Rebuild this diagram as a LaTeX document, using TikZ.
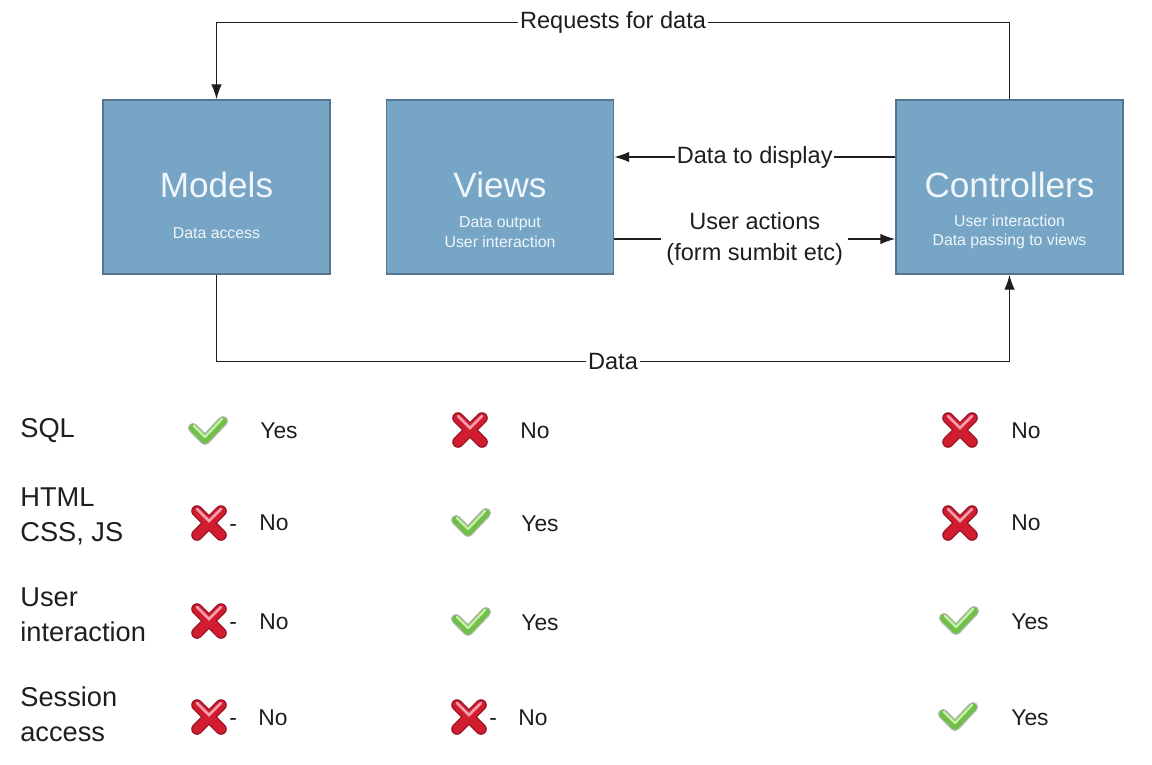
\documentclass[tikz,border=0pt]{standalone}
\usepackage{fontspec}
\setmainfont{Liberation Sans}
\usetikzlibrary{arrows.meta, calc, positioning}
\definecolor{boxblue}{RGB}{118,165,198}
\definecolor{boxedge}{RGB}{84,118,145}
\definecolor{boxtext}{RGB}{240,246,250}
\definecolor{inktext}{RGB}{30,30,30}
\definecolor{okgreen}{RGB}{112,192,72}
\definecolor{oklight}{RGB}{200,240,170}
\definecolor{nored}{RGB}{210,28,48}
\definecolor{nodark}{RGB}{150,20,35}
\definecolor{nolight}{RGB}{245,160,175}

\tikzset{
  okmark/.pic={
    \draw[line width=5.8pt,gray!55,line cap=round,line join=round] (-14,-3) -- (-2,9) -- (16,-10);
    \draw[line width=4.4pt,okgreen,line cap=round,line join=round] (-14,-3) -- (-2,9) -- (16,-10);
    \draw[line width=1.3pt,oklight,line cap=round,line join=round] (-13,-5) -- (-2,6) -- (15,-12);
  },
  nomark/.pic={
    \draw[line width=6.6pt,nodark,line cap=round] (-12,-12) -- (12,12) (-12,12) -- (12,-12);
    \draw[line width=5.2pt,nored,line cap=round] (-12,-12) -- (12,12) (-12,12) -- (12,-12);
    \draw[line width=1.5pt,nolight,line cap=round] (-12,-14) -- (0,-2) -- (12,-14);
  }
}

\begin{document}
\begin{tikzpicture}[x=0.02cm,y=-0.02cm,
    >={Latex[length=8.5pt,width=6pt]},
    box/.style={draw=boxedge,line width=0.9pt,fill=boxblue,minimum width=4.54cm,minimum height=3.48cm},
    boxtitle/.style={text=boxtext,font=\fontsize{20}{24}\selectfont},
    boxsub/.style={text=boxtext,align=center,inner sep=0pt,font=\fontsize{9}{11.2}\selectfont},
    link/.style={line width=0.8pt,inktext},
    lbl/.style={fill=white,text=inktext,inner sep=1pt,align=center,font=\fontsize{13.4}{18}\selectfont},
    rowlbl/.style={anchor=west,align=left,inner sep=0pt,text=inktext,font=\fontsize{15.5}{19.8}\selectfont},
    answer/.style={anchor=west,inner sep=0pt,text=inktext,font=\fontsize{13}{16}\selectfont}]
  \useasboundingbox (0,0) rectangle (1152,764);

  % the three boxes
  \node[box] (models) at (216.5,187) {};
  \node[box] (views) at (500,187) {};
  \node[box] (ctrl) at (1009.5,187) {};

  \node[boxtitle] (models-t) at ($(models.center)+(0,-2)$) {Models};
  \node[boxsub] (models-s) at ($(models.center)+(0,46)$) {Data access};
  \node[boxtitle] (views-t) at ($(views.center)+(0,-2)$) {Views};
  \node[boxsub] (views-s) at ($(views.center)+(0,45)$) {Data output\\User interaction};
  \node[boxtitle] (ctrl-t) at ($(ctrl.center)+(0,-2)$) {Controllers};
  \node[boxsub] (ctrl-s) at ($(ctrl.center)+(0,45)$) {User interaction\\Data passing to views};

  % connectors
  \draw[link,->] (ctrl.north) -- ++(0,-77) -| node[lbl,pos=.25] {Requests for data} (models.north);
  \draw[link,->] ($(ctrl.west)+(0,-30)$) -- node[lbl] {Data to display} ($(views.east)+(0,-30)$);
  \draw[link,->] ($(views.east)+(0,52)$) -- node[lbl,inner sep=3pt] {User actions\\(form sumbit etc)} ($(ctrl.west)+(0,52)$);
  \draw[link,->] (models.south) -- ++(0,87) -| node[lbl,pos=.25] {Data} (ctrl.south);

  % table rows
  \node[rowlbl] (sql) at (20,431) {SQL};
  \node[rowlbl] (html) at (20,516) {HTML\\CSS, JS};
  \node[rowlbl] (user) at (20,615) {User\\interaction};
  \node[rowlbl] (sess) at (20,714) {Session\\access};

  \foreach \px/\py/\mk in {207/431/okmark, 470/430/nomark, 960/430/nomark,
      209/523/nomark, 470/523/okmark, 960/523/nomark,
      209/621/nomark, 470/622/okmark, 958/621/okmark,
      209/717/nomark, 469/717/nomark, 957/717/okmark}
    \pic at (\px,\py) {\mk};

  \foreach \px/\py/\ans in {260/431/Yes, 520/431/No, 1011/431/No,
      259/523/No, 521/524/Yes, 1011/523/No,
      259/622/No, 521/623/Yes, 1011/622/Yes,
      258/718/No, 518/718/No, 1011/718/Yes}
    \node[answer] (a-\px-\py) at (\px,\py) {\ans};

  \foreach \px/\py in {229/528, 229/626, 229/722, 489/722}
    \node[answer] (d-\px-\py) at (\px,\py) {-};
\end{tikzpicture}
\end{document}
